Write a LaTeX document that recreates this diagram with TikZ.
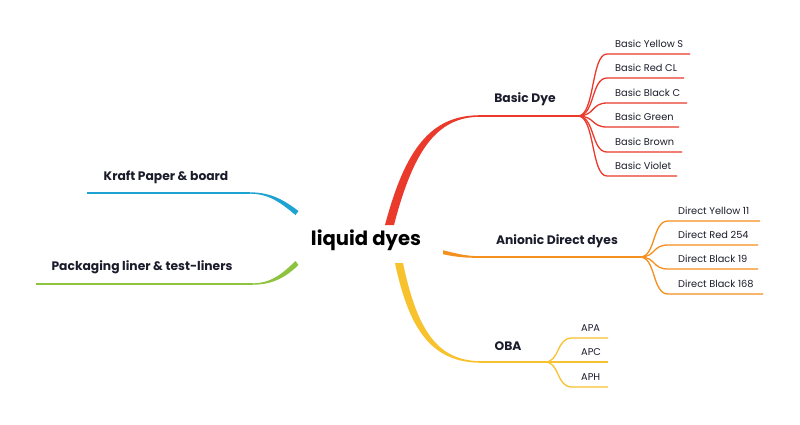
\documentclass[tikz,border=0pt]{standalone}
\usepackage{fontspec}
\setmainfont{Poppins}
\definecolor{cred}{HTML}{EA3A2C}
\definecolor{corange}{HTML}{F4901E}
\definecolor{cyellow}{HTML}{F8C22E}
\definecolor{cblue}{HTML}{1CA3D2}
\definecolor{cgreen}{HTML}{8DC33F}
\definecolor{ctext}{HTML}{1B1C2B}
\begin{document}
\begin{tikzpicture}[x=1pt,y=-1pt,
  leaf/.style={anchor=west,inner sep=0pt,font=\fontsize{9.8}{11}\selectfont,text=ctext},
  branch/.style={inner sep=0pt,font=\bfseries\fontsize{12.3}{14}\selectfont,text=ctext},
  twig/.style={line width=1.3pt}]
\useasboundingbox (0,0) rectangle (800,424);
\fill[white] (0,0) rectangle (800,424);

\node[inner sep=0pt,font=\bfseries\fontsize{19.6}{22}\selectfont,text=black] (root) at (366,240) {liquid dyes};

% branch labels
\node[branch] (bd) at (525,99) {Basic Dye};
\node[branch] (ad) at (557,241) {Anionic Direct dyes};
\node[branch] (oba) at (508,346) {OBA};
\node[branch] (kp) at (166,177) {Kraft Paper \& board};
\node[branch] (pl) at (142,267) {Packaging liner \& test-liners};

% coordinates
\coordinate (rs) at (480,116);
\coordinate (rf) at (578,116);
\coordinate (os) at (480,257);
\coordinate (of) at (640,257);
\coordinate (ys) at (482,362);
\coordinate (yf) at (545,362);
\coordinate (bs) at (250,193);
\coordinate (be) at (87,193);
\coordinate (gs) at (253,284);
\coordinate (ge) at (36,284);

% red main
\fill[cred] (385,225) .. controls (405,150) and (430,115.2) .. (480,115.2) -- (480,116.8) .. controls (436,116.8) and (413,152) .. (394,225) -- cycle;
\draw[cred,line width=1.5pt] (rs) -- (rf);
% orange main
\fill[corange] (443,250.3) .. controls (455,253) and (465,256.2) .. (480,256.2) -- (480,257.8) .. controls (465,258) and (455,256.8) .. (443,254.2) -- cycle;
\draw[corange,line width=1.5pt] (os) -- (of);
% yellow main
\fill[cyellow] (395,263) .. controls (410,335) and (435,362.8) .. (482,362.8) -- (482,361.2) .. controls (440,361.2) and (418,335) .. (403,263) -- cycle;
\draw[cyellow,line width=1.5pt] (ys) -- (yf);
% blue
\fill[cblue] (250,192.3) .. controls (272,192.3) and (285,201) .. (298.5,211) -- (295.5,215) .. controls (282,204) and (270,193.7) .. (250,193.7) -- cycle;
\draw[cblue,line width=1.4pt] (be) -- (bs);
% green
\fill[cgreen] (253,284.7) .. controls (275,284.7) and (288,275) .. (298.5,265) -- (295.5,261) .. controls (284,272) and (272,283.3) .. (253,283.3) -- cycle;
\draw[cgreen,line width=1.4pt] (ge) -- (gs);

% red leaves
\foreach \y/\e/\t [count=\i] in {54/690/Basic Yellow S,78/684/Basic Red CL,103/687/Basic Black C,127/679/Basic Green,152/682/Basic Brown,176/677/Basic Violet}{
  \node[leaf] (r\i) at (615,\y-10) {\t};
  \coordinate (re\i) at (\e,\y);
  \draw[cred,twig] (rf) .. controls (595,116) and (591,\y) .. (607,\y) -- (re\i);
}
% orange leaves
\foreach \y/\e/\t [count=\i] in {221/760/Direct Yellow 11,245/758/Direct Red 254,269/758/Direct Black 19,294/763/Direct Black 168}{
  \node[leaf] (o\i) at (678,\y-10) {\t};
  \coordinate (oe\i) at (\e,\y);
  \draw[corange,twig] (of) .. controls (656,257) and (652,\y) .. (668,\y) -- (oe\i);
}
% yellow leaves
\foreach \y/\e/\t [count=\i] in {338/608/APA,362/608/APC,387/608/APH}{
  \node[leaf] (y\i) at (581,\y-10) {\t};
  \coordinate (ye\i) at (\e,\y);
  \draw[cyellow,twig] (yf) .. controls (560,362) and (556,\y) .. (572,\y) -- (ye\i);
}
\end{tikzpicture}
\end{document}
